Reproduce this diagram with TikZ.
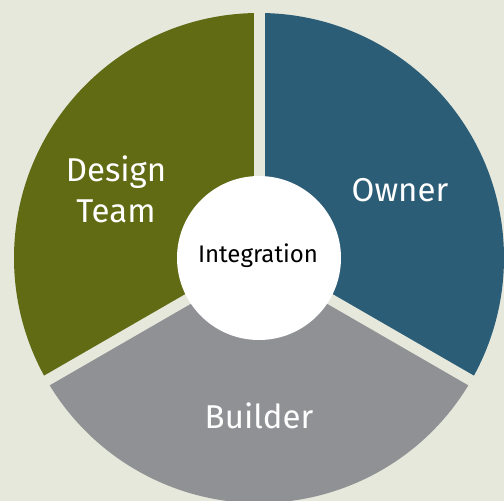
\documentclass[tikz,border=0pt]{standalone}
\usepackage{fontspec}
\usetikzlibrary{calc}
\setmainfont{Fira Sans}
\definecolor{bgc}{HTML}{E6E8DC}
\definecolor{olivec}{HTML}{616B14}
\definecolor{tealc}{HTML}{2B5D77}
\definecolor{greyc}{HTML}{909195}
\tikzset{
  seclabel/.style={text=white, font=\fontsize{33}{41}\selectfont, align=center, inner sep=0pt},
  gapline/.style={draw=bgc, line width=11pt},
}
\begin{document}
\begin{tikzpicture}[x=1pt,y=-1pt]
\fill[bgc] (0,0) rectangle (504,501);
\useasboundingbox (0,0) rectangle (504,501);
\coordinate (c) at (259,258);
\fill[tealc] (c) -- ++(90:-245) arc[start angle=-90, end angle=30, radius=245] -- cycle;
\fill[olivec] (c) -- ++(90:-245) arc[start angle=-90, end angle=-210, radius=245] -- cycle;
\fill[greyc] (c) -- ++(30:245) arc[start angle=30, end angle=150, radius=245] -- cycle;
\coordinate (g1) at ($(c)+(90:-260)$);
\coordinate (g2) at ($(c)+(30:260)$);
\coordinate (g3) at ($(c)+(150:260)$);
\draw[gapline] (c) -- (g1);
\draw[gapline] (c) -- (g2);
\draw[gapline] (c) -- (g3);
\node[circle, fill=white, minimum size=164pt, inner sep=0pt] (int) at (c) {};
\node[text=black, font=\fontsize{24}{28}\selectfont, inner sep=0pt] (intl) at (258,256) {Integration};
\node[seclabel] (owner) at (400,190) {Owner};
\node[seclabel] (builder) at (259,416) {Builder};
\node[seclabel] (design) at (116,189) {Design\\Team};
\end{tikzpicture}
\end{document}
